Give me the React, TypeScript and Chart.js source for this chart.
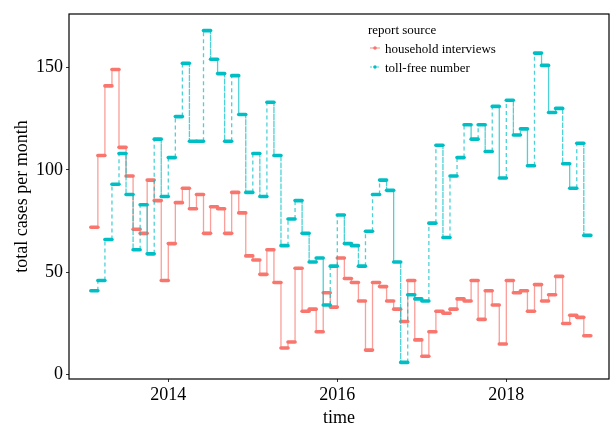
import React, { useEffect, useRef } from "react";
import { Chart, registerables } from "chart.js";

Chart.register(...registerables);

// ---- data ----
const months = [
  "2013-02","2013-03","2013-04","2013-05","2013-06","2013-07","2013-08","2013-09","2013-10","2013-11","2013-12",
  "2014-01","2014-02","2014-03","2014-04","2014-05","2014-06","2014-07","2014-08","2014-09","2014-10","2014-11","2014-12",
  "2015-01","2015-02","2015-03","2015-04","2015-05","2015-06","2015-07","2015-08","2015-09","2015-10","2015-11","2015-12",
  "2016-01","2016-02","2016-03","2016-04","2016-05","2016-06","2016-07","2016-08","2016-09","2016-10","2016-11","2016-12",
  "2017-01","2017-02","2017-03","2017-04","2017-05","2017-06","2017-07","2017-08","2017-09","2017-10","2017-11","2017-12",
  "2018-01","2018-02","2018-03","2018-04","2018-05","2018-06","2018-07","2018-08","2018-09","2018-10","2018-11","2018-12",
];

const household = [
  72, 107, 141, 149, 111, 97, 71, 69, 95, 85, 46,
  64, 84, 91, 81, 88, 69, 82, 81, 69, 89, 79, 58,
  56, 49, 61, 45, 13, 16, 52, 31, 32, 21, 40, 33,
  57, 47, 45, 36, 12, 45, 43, 36, 32, 26, 46, 17,
  9, 21, 31, 30, 32, 37, 36, 46, 27, 41, 34, 15,
  46, 40, 41, 31, 44, 36, 39, 48, 25, 29, 28, 19,
];

const tollFree = [
  41, 46, 66, 93, 108, 88, 61, 83, 59, 115, 87,
  106, 126, 152, 114, 114, 168, 154, 147, 114, 146, 127, 89,
  108, 87, 133, 107, 63, 76, 85, 69, 55, 57, 34, 53,
  78, 64, 63, 53, 70, 88, 95, 90, 55, 6, 39, 37,
  36, 74, 112, 67, 97, 106, 122, 115, 122, 109, 131, 96,
  134, 117, 120, 102, 157, 151, 128, 130, 103, 91, 113, 68,
];

const seriesNames = ["household interviews", "toll-free number"];
const legendTitle = "report source";
const xTicks = [2014, 2016, 2018];
const yTicks = [0, 50, 100, 150];
const xTitle = "time";
const yTitle = "total cases per month";

const RED = "#F8766D";
const RED_T = "rgba(248,118,109,0.7)";
const CYAN = "#00BFC4";
const CYAN_T = "rgba(0,191,196,0.7)";
const FONT = "'Liberation Serif', 'Times New Roman', serif";

function toSteps(values: number[]) {
  const pts: { x: number; y: number }[] = [];
  months.forEach((m, i) => {
    const [yr, mo] = m.split("-").map(Number);
    pts.push({ x: yr + (mo - 1) / 12, y: values[i] });
    pts.push({ x: yr + mo / 12, y: values[i] });
  });
  return pts;
}

function makeSegment(solid: string, faint: string, dash: number[]) {
  const isBar = (c: any) => c.p0DataIndex % 2 === 0;
  return {
    borderWidth: (c: any) => (isBar(c) ? 3.6 : 1.3),
    borderColor: (c: any) => (isBar(c) ? solid : faint),
    borderDash: (c: any) => (isBar(c) ? [] : dash),
    borderCapStyle: (c: any) => (isBar(c) ? "round" : "butt"),
  };
}

const decorPlugin = {
  id: "decor",
  afterDraw(chart: any) {
    const { ctx, chartArea } = chart;
    const { left, right, top, bottom } = chartArea;
    ctx.save();
    // panel border
    ctx.strokeStyle = "#000";
    ctx.lineWidth = 1.2;
    ctx.strokeRect(left, top, right - left, bottom - top);

    // axis titles
    ctx.fillStyle = "#000";
    ctx.font = `18px ${FONT}`;
    ctx.textAlign = "center";
    ctx.textBaseline = "alphabetic";
    ctx.fillText(xTitle, (left + right) / 2, 423);

    ctx.save();
    ctx.translate(27, (top + bottom) / 2);
    ctx.rotate(-Math.PI / 2);
    ctx.textBaseline = "alphabetic";
    ctx.fillText(yTitle, 0, 0);
    ctx.restore();

    // legend
    ctx.font = `13px ${FONT}`;
    ctx.textAlign = "left";
    ctx.textBaseline = "alphabetic";
    ctx.fillStyle = "#000";
    ctx.fillText(legendTitle, 368, 34);
    const items = [
      { name: seriesNames[0], solid: RED, faint: RED_T, dash: [] as number[], y: 48 },
      { name: seriesNames[1], solid: CYAN, faint: CYAN_T, dash: [2, 1.5], y: 67 },
    ];
    items.forEach((it) => {
      ctx.strokeStyle = it.faint;
      ctx.lineWidth = 1.2;
      ctx.setLineDash(it.dash);
      ctx.beginPath();
      ctx.moveTo(370, it.y);
      ctx.lineTo(380, it.y);
      ctx.stroke();
      ctx.setLineDash([]);
      ctx.fillStyle = it.solid;
      ctx.beginPath();
      ctx.arc(375, it.y, 1.8, 0, Math.PI * 2);
      ctx.fill();
      ctx.fillStyle = "#000";
      ctx.fillText(it.name, 385, it.y + 4.5);
    });
    ctx.restore();
  },
};

export default function App() {
  const ref = useRef<HTMLCanvasElement | null>(null);
  useEffect(() => {
    if (!ref.current) return;
    const chart = new Chart(ref.current, {
      type: "line",
      data: {
        datasets: [
          {
            label: seriesNames[0],
            data: toSteps(household),
            borderColor: RED,
            pointRadius: 0,
            fill: false,
            order: 2,
            segment: makeSegment(RED, RED_T, []),
          } as any,
          {
            label: seriesNames[1],
            data: toSteps(tollFree),
            borderColor: CYAN,
            pointRadius: 0,
            fill: false,
            order: 1,
            segment: makeSegment(CYAN, CYAN_T, [4, 3]),
          } as any,
        ],
      },
      options: {
        animation: false,
        responsive: false,
        maintainAspectRatio: false,
        layout: { padding: { top: 14, right: 2, left: 0, bottom: 0 } },
        plugins: { legend: { display: false }, tooltip: { enabled: false } },
        scales: {
          x: {
            type: "linear",
            min: 2012.825,
            max: 2019.215,
            afterBuildTicks: (a: any) => {
              a.ticks = xTicks.map((v) => ({ value: v }));
            },
            afterFit: (s: any) => {
              s.height = 46;
            },
            grid: { drawOnChartArea: false, drawTicks: true, tickLength: 3, color: "#333" },
            border: { display: false },
            ticks: {
              color: "#000",
              font: { family: FONT, size: 18 },
              padding: 2,
              maxRotation: 0,
              autoSkip: false,
              callback: (v: any) => String(v),
            },
          },
          y: {
            type: "linear",
            min: -2.1,
            max: 176.1,
            afterBuildTicks: (a: any) => {
              a.ticks = yTicks.map((v) => ({ value: v }));
            },
            afterFit: (s: any) => {
              s.width = 69;
            },
            grid: { drawOnChartArea: false, drawTicks: true, tickLength: 3, color: "#333" },
            border: { display: false },
            ticks: {
              color: "#000",
              font: { family: FONT, size: 18 },
              padding: 3,
              autoSkip: false,
              callback: (v: any) => String(v),
            },
          },
        },
      },
      plugins: [decorPlugin],
    } as any);
    return () => chart.destroy();
  }, []);
  return (
    <div style={{ position: "fixed", left: 0, top: 0, width: 611, height: 425, background: "#fff" }}>
      <canvas ref={ref} width={611} height={425} style={{ width: 611, height: 425 }} />
    </div>
  );
}
